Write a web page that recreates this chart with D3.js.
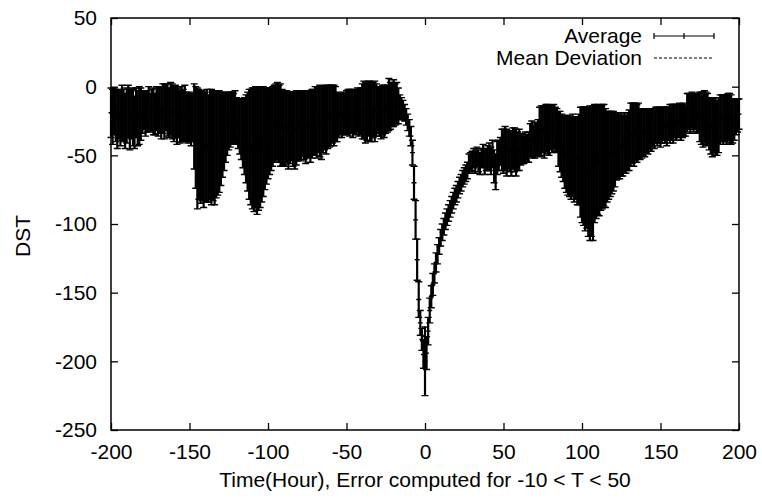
<!DOCTYPE html>
<html>
<head>
<meta charset="utf-8">
<script src="https://cdn.jsdelivr.net/npm/d3@7/dist/d3.min.js"></script>
<style>
  html, body { margin: 0; padding: 0; background: #fff; }
  svg { display: block; }
  text { font-family: "Liberation Sans", Arial, Helvetica, sans-serif; fill: #000; }
</style>
</head>
<body>
<div id="chart"></div>
<script>
// DST around storm onset, one error bar per hour (-200 .. 200)
const hours = d3.range(-200, 201)

const avg = [
  -19, -22, -18, -21, -24, -20, -23, -19, -21, -25,
  -21, -18, -24, -20, -22, -26, -19, -23, -21, -20,
  -19, -17, -20, -18, -16, -19, -17, -18, -20, -16,
  -18, -17, -19, -16, -18, -15, -17, -19, -16, -18,
  -20, -18, -21, -19, -22, -20, -21, -19, -22, -23,
  -22, -24, -23, -29, -37, -45, -42, -44, -43, -46,
  -44, -43, -45, -42, -44, -43, -45, -42, -41, -40,
  -38, -35, -33, -30, -27, -25, -24, -23, -23, -22,
  -25, -27, -29, -31, -34, -36, -38, -40, -42, -44,
  -45, -46, -44, -47, -45, -44, -42, -40, -38, -36,
  -34, -33, -31, -29, -27, -26, -25, -27, -28, -30,
  -30, -31, -29, -32, -30, -29, -31, -32, -30, -29,
  -28, -29, -27, -28, -30, -28, -27, -29, -27, -26,
  -25, -26, -24, -25, -27, -24, -23, -24, -22, -22,
  -21, -20, -21, -20, -22, -21, -20, -21, -19, -20,
  -19, -18, -19, -18, -20, -18, -19, -17, -19, -18,
  -18, -17, -19, -18, -16, -18, -19, -17, -18, -17,
  -17, -18, -19, -17, -18, -17, -16, -13, -14, -13,
  -12, -13, -12, -14, -15, -16, -17, -19, -22, -26,
  -30, -36, -48, -70, -97, -126, -155, -172, -184, -195,
  -200, -194, -178, -163, -153, -144, -136, -128, -122, -116,
  -110, -106, -102, -98, -95, -92, -89, -86, -83, -80,
  -78, -75, -72, -70, -67, -65, -63, -61, -56, -55,
  -54, -52, -55, -51, -54, -56, -52, -50, -55, -53,
  -52, -51, -54, -49, -58, -62, -52, -50, -47, -46,
  -47, -45, -48, -46, -47, -49, -45, -46, -48, -47,
  -46, -46, -45, -46, -44, -45, -44, -39, -38, -40,
  -39, -38, -37, -33, -32, -31, -33, -30, -31, -32,
  -30, -31, -29, -31, -32, -38, -40, -43, -45, -48,
  -49, -50, -51, -52, -50, -53, -52, -54, -53, -55,
  -57, -58, -60, -59, -62, -63, -62, -63, -56, -55,
  -53, -54, -52, -51, -50, -52, -51, -50, -49, -48,
  -47, -46, -44, -43, -44, -42, -43, -41, -42, -40,
  -39, -35, -34, -35, -33, -34, -32, -35, -34, -33,
  -34, -32, -33, -31, -32, -30, -31, -28, -29, -28,
  -30, -28, -27, -28, -29, -27, -27, -26, -27, -25,
  -26, -25, -24, -26, -25, -24, -25, -19, -18, -20,
  -17, -19, -18, -20, -19, -22, -23, -24, -22, -23,
  -24, -27, -29, -30, -28, -29, -30, -28, -24, -23,
  -24, -23, -24, -22, -23, -24, -25, -24, -22, -21,
  -20
]

const dev = [
  18, 20, 17, 19, 21, 18, 20, 20, 19, 20,
  20, 19, 22, 18, 21, 19, 18, 20, 21, 19,
  15, 14, 16, 15, 16, 14, 15, 17, 15, 16,
  18, 17, 19, 18, 20, 17, 19, 18, 19, 20,
  20, 19, 21, 18, 19, 20, 19, 20, 18, 18,
  18, 19, 17, 31, 37, 44, 40, 41, 40, 42,
  40, 41, 39, 40, 42, 40, 41, 39, 38, 37,
  34, 31, 28, 25, 23, 21, 20, 19, 18, 19,
  17, 18, 20, 22, 25, 28, 32, 36, 40, 42,
  44, 45, 44, 46, 45, 44, 42, 40, 37, 35,
  33, 31, 30, 29, 28, 28, 28, 28, 30, 28,
  27, 27, 26, 28, 26, 25, 27, 28, 27, 25,
  25, 25, 24, 25, 26, 24, 24, 26, 25, 24,
  25, 26, 24, 26, 26, 24, 23, 25, 23, 22,
  22, 21, 22, 20, 18, 16, 15, 16, 15, 15,
  16, 16, 17, 16, 17, 16, 16, 16, 17, 17,
  20, 21, 22, 21, 20, 22, 21, 20, 22, 19,
  17, 18, 19, 18, 19, 17, 17, 19, 17, 16,
  17, 15, 15, 13, 9, 8, 7, 6, 6, 6,
  6, 7, 9, 12, 14, 15, 13, 9, 8, 10,
  25, 12, 10, 9, 8, 8, 7, 7, 7, 6,
  6, 6, 6, 6, 6, 6, 6, 6, 6, 6,
  6, 6, 6, 6, 6, 6, 6, 6, 7, 7,
  7, 7, 8, 7, 8, 8, 7, 8, 9, 8,
  9, 10, 10, 10, 12, 13, 12, 11, 10, 15,
  16, 16, 17, 14, 15, 16, 15, 16, 17, 14,
  15, 11, 11, 10, 11, 10, 11, 12, 13, 12,
  13, 12, 13, 18, 18, 17, 19, 17, 18, 18,
  16, 17, 16, 16, 16, 20, 22, 23, 24, 26,
  28, 29, 29, 30, 30, 31, 30, 32, 33, 40,
  42, 43, 45, 44, 47, 49, 47, 49, 43, 41,
  40, 40, 38, 38, 37, 36, 33, 32, 31, 30,
  29, 27, 24, 24, 23, 23, 22, 22, 21, 21,
  22, 23, 22, 23, 21, 21, 20, 18, 18, 17,
  17, 16, 16, 15, 15, 14, 14, 13, 14, 13,
  14, 13, 12, 13, 14, 12, 14, 13, 14, 12,
  13, 12, 12, 13, 12, 12, 11, 14, 13, 14,
  13, 14, 13, 14, 14, 18, 19, 20, 19, 19,
  19, 19, 20, 21, 20, 21, 20, 20, 18, 17,
  18, 17, 18, 17, 18, 18, 16, 15, 13, 12,
  11
]

const xTicks = [-200, -150, -100, -50, 0, 50, 100, 150, 200]
const yTicks = [50, 0, -50, -100, -150, -200, -250]
const legendItems = ['Average', 'Mean Deviation']

const W = 762
const H = 501
const margin = { top: 18, right: 23, bottom: 71, left: 111 }
const iw = W - margin.left - margin.right
const ih = H - margin.top - margin.bottom
const fontSize = '21px'
const capW = 3.5
const tickLen = 7

const data = hours.map((h, i) => ({ h, y: avg[i], e: dev[i] }))

const x = d3.scaleLinear().domain([-200, 200]).range([0, iw])
const y = d3.scaleLinear().domain([-250, 50]).range([ih, 0])

const svg = d3.select('#chart')
  .append('svg')
  .attr('width', W)
  .attr('height', H)

const g = svg.append('g')
  .attr('transform', `translate(${margin.left},${margin.top})`)

// Error bars
g.append('g')
  .selectAll('line')
  .data(data)
  .join('line')
  .attr('x1', d => x(d.h))
  .attr('x2', d => x(d.h))
  .attr('y1', d => y(d.y - d.e))
  .attr('y2', d => y(d.y + d.e))
  .attr('stroke', '#000')
  .attr('stroke-width', 2.2)

// Caps and point ticks
g.append('g')
  .attr('stroke', '#000')
  .attr('stroke-width', 1.4)
  .attr('fill', 'none')
  .selectAll('path')
  .data(data)
  .join('path')
  .attr('d', d => {
    const cx = x(d.h)
    const y0 = y(d.y - d.e)
    const y1 = y(d.y + d.e)
    const cy = y(d.y)
    return `M${cx - capW},${y0}H${cx + capW}` +
      `M${cx - capW},${y1}H${cx + capW}` +
      `M${cx - 2.5},${cy}H${cx + 2.5}`
  })

// Frame with inward ticks on all sides (gnuplot style)
g.append('rect')
  .attr('width', iw)
  .attr('height', ih)
  .attr('fill', 'none')
  .attr('stroke', '#000')
  .attr('stroke-width', 1.5)

const fmt = d => String(d)
const axisBottom = d3.axisBottom(x).tickValues(xTicks).tickFormat(fmt).tickSizeInner(-tickLen).tickSizeOuter(0).tickPadding(tickLen + 7)
const axisTop = d3.axisTop(x).tickValues(xTicks).tickSizeInner(-tickLen).tickSizeOuter(0).tickFormat('')
const axisLeft = d3.axisLeft(y).tickValues(yTicks).tickFormat(fmt).tickSizeInner(-tickLen).tickSizeOuter(0).tickPadding(tickLen + 7)
const axisRight = d3.axisRight(y).tickValues(yTicks).tickSizeInner(-tickLen).tickSizeOuter(0).tickFormat('')

const styleAxis = sel => {
  sel.select('.domain').remove()
  sel.selectAll('line').attr('stroke', '#000').attr('stroke-width', 1.3)
  sel.selectAll('text').style('font-size', fontSize).attr('fill', '#000')
}

g.append('g').attr('transform', `translate(0,${ih})`).call(axisBottom).call(styleAxis)
g.append('g').call(axisTop).call(styleAxis)
g.append('g').call(axisLeft).call(styleAxis)
g.append('g').attr('transform', `translate(${iw},0)`).call(axisRight).call(styleAxis)

// Axis titles
svg.append('text')
  .attr('x', margin.left + iw / 2)
  .attr('y', 487)
  .attr('text-anchor', 'middle')
  .style('font-size', fontSize)
  .text('Time(Hour), Error computed for -10 < T < 50')

svg.append('text')
  .attr('transform', `translate(30,236) rotate(-90)`)
  .attr('text-anchor', 'middle')
  .style('font-size', fontSize)
  .text('DST')

// Legend
const legend = svg.append('g')
const lx0 = 654
const lx1 = 714
const ly = [36, 58]

legend.selectAll('text')
  .data(legendItems)
  .join('text')
  .attr('x', 642)
  .attr('y', (d, i) => ly[i])
  .attr('dy', '0.35em')
  .attr('text-anchor', 'end')
  .style('font-size', fontSize)
  .text(d => d)

legend.append('path')
  .attr('d', `M${lx0},${ly[0]}H${lx1}M${lx0},${ly[0] - 3}V${ly[0] + 3}M${lx1},${ly[0] - 3}V${ly[0] + 3}M${(lx0 + lx1) / 2},${ly[0] - 3}V${ly[0] + 3}`)
  .attr('stroke', '#000')
  .attr('stroke-width', 1.2)
  .attr('fill', 'none')

legend.append('line')
  .attr('x1', lx0)
  .attr('x2', lx1)
  .attr('y1', ly[1])
  .attr('y2', ly[1])
  .attr('stroke', '#000')
  .attr('stroke-width', 1)
  .attr('stroke-dasharray', '3,2')
</script>
</body>
</html>
